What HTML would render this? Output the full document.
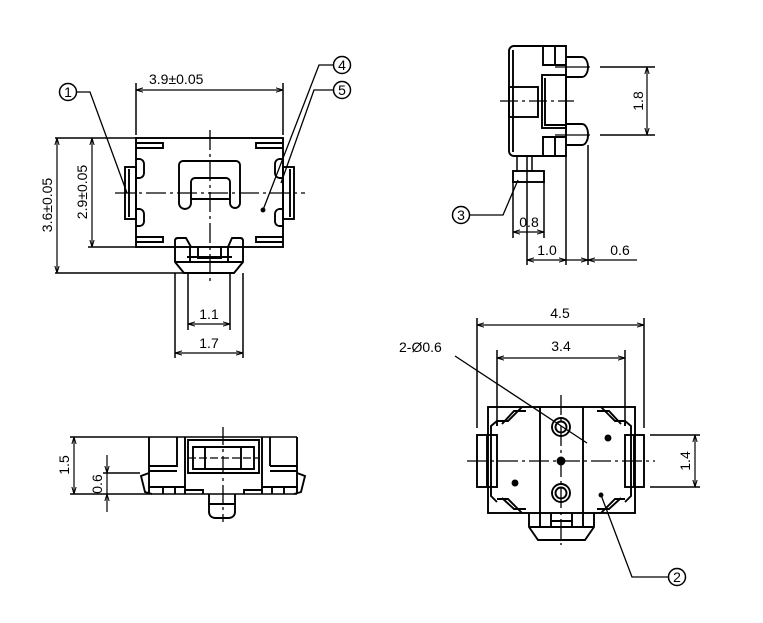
<!DOCTYPE html>
<html><head><meta charset="utf-8"><style>
html,body{margin:0;padding:0;background:#fff;}
svg{display:block;}
text{font-family:"Liberation Sans",sans-serif;fill:#000;}
</style></head><body>
<svg width="763" height="623" viewBox="0 0 763 623" xmlns="http://www.w3.org/2000/svg">
<defs>
<marker id="a" viewBox="0 0 10 10" refX="10" refY="5" markerWidth="6" markerHeight="6" orient="auto-start-reverse"><path d="M0,2 L10,5 L0,8" fill="none" stroke="#000" stroke-width="1.4"/></marker>
</defs>
<g fill="none" stroke="#000" stroke-width="1.9">
<!-- ===== TOP LEFT VIEW ===== -->
<rect x="136" y="138" width="147" height="109"/>
<path d="M136,143 H163 V148 H136 M283,143 H256 V148 H283 M136,237 H163 V242 H136 M283,237 H256 V242 H283"/>
<rect x="125" y="167" width="11" height="52"/><rect x="283" y="167" width="11" height="52"/>
<path d="M129,169 V217 M290,169 V217"/>
<path d="M136,159 H140 A5,5 0 0 1 144,164 V173 A5,5 0 0 1 140,178 H136 M136,209 H140 A5,5 0 0 1 144,214 V222 A5,5 0 0 1 140,226 H136"/>
<path d="M283,159 H279 A5,5 0 0 0 275,164 V173 A5,5 0 0 0 279,178 H283 M283,209 H279 A5,5 0 0 0 275,214 V222 A5,5 0 0 0 279,226 H283"/>
<path d="M179,203 V165 A4,4 0 0 1 183,161 H236 A4,4 0 0 1 240,165 V203 A5,5 0 0 1 230,203 V182 A4,4 0 0 0 226,178 H195 A4,4 0 0 0 191,182 V203 A6,6 0 0 1 179,203 Z"/>
<path d="M191,199 H230"/>
<path d="M175,247 V240 A3,3 0 0 1 178,238 H186 L191,247 M243,247 V240 A3,3 0 0 0 240,238 H232 L228,247"/>
<path d="M175,247 V262 L184,273 H234 L243,262 V247 M175,262 H243 M190,247 V262 M228,247 V262 M198,247 V258 H221 V247 M187,257 H232"/>
<path d="M210,130 V285" stroke-width="1.3" stroke-dasharray="20,4,3,4"/>
<path d="M115,193 H305" stroke-width="1.3" stroke-dasharray="20,4,3,4"/>
<path d="M136,83 V135 M283,83 V135" stroke-width="1.5"/>
<path d="M136,90 H283" stroke-width="1.2" marker-start="url(#a)" marker-end="url(#a)"/>
<path d="M88,138 H136 M88,247 H136 M55,138 H136 M55,273 H186" stroke-width="1.5"/>
<path d="M92,138 V247" stroke-width="1.2" marker-start="url(#a)" marker-end="url(#a)"/>
<path d="M57,138 V273" stroke-width="1.2" marker-start="url(#a)" marker-end="url(#a)"/>
<path d="M188,273 V330 M230,273 V330 M175,273 V358 M243,273 V358" stroke-width="1.5"/>
<path d="M188,324 H230" stroke-width="1.2" marker-start="url(#a)" marker-end="url(#a)"/>
<path d="M175,353 H243" stroke-width="1.2" marker-start="url(#a)" marker-end="url(#a)"/>
<circle cx="68" cy="92" r="8.5" stroke-width="1.5"/>
<path d="M77,92 H90 L127,193" stroke-width="1.3"/>
<circle cx="342" cy="65" r="8.5" stroke-width="1.5"/><circle cx="342" cy="90" r="8.5" stroke-width="1.5"/>
<path d="M333,65 H319 L263,210 M333,90 H314 L281,183" stroke-width="1.3"/>
<circle cx="263" cy="210" r="1.5" fill="#000"/>

<!-- ===== TOP RIGHT VIEW ===== -->
<path d="M566,46 V156 H514 A5,5 0 0 1 509,151 V51 A5,5 0 0 1 514,46 Z"/>
<path d="M513,50 V152"/>
<rect x="509" y="87" width="29" height="30"/>
<rect x="542" y="75" width="24" height="53"/>
<path d="M545,78 V125 H566"/>
<path d="M543,46 V65 H566 M555,46 V65 M543,156 V137 H566 M555,156 V137"/>
<path d="M566,57 H582 A6,10 0 0 1 588,67 A6,10 0 0 1 582,77 H566 M566,124 H582 A6,10 0 0 1 588,134 A6,10 0 0 1 582,145 H566"/>
<path d="M555,67 H590 M555,135 H590" stroke-width="1.3"/>
<path d="M500,101 H574" stroke-width="1.3" stroke-dasharray="18,4,3,4"/>
<path d="M517,156 V172 M532,156 V172 M527,156 V172" stroke-width="1.5"/>
<rect x="513" y="171" width="31" height="11"/>
<path d="M600,67 H655 M600,135 H655" stroke-width="1.5"/>
<path d="M647,67 V135" stroke-width="1.2" marker-start="url(#a)" marker-end="url(#a)"/>
<path d="M513,182 V238 M544,182 V238 M527,172 V265 M566,156 V265 M588,145 V265" stroke-width="1.5"/>
<path d="M513,232 H544" stroke-width="1.2" marker-start="url(#a)" marker-end="url(#a)"/>
<path d="M527,260 H566" stroke-width="1.2" marker-start="url(#a)" marker-end="url(#a)"/>
<path d="M566,260 H588" stroke-width="1.2" marker-end="url(#a)"/>
<path d="M588,260 H637" stroke-width="1.2" marker-start="url(#a)"/>
<circle cx="461" cy="215" r="8.5" stroke-width="1.5"/>
<path d="M470,215 H503 L518,180" stroke-width="1.3"/>

<!-- ===== BOTTOM LEFT VIEW ===== -->
<path d="M70,437 H297 M70,494 H297" stroke-width="1.6"/>
<path d="M149,437 V494 M297,437 V494"/>
<path d="M149,466 H177 V437 M149,471 H177 M185,437 V473 M270,466 H297 M270,471 H297 M262,437 V473 M270,437 V466"/>
<path d="M188,440 H259 V473 H188 Z M193,447 H254 V469 H193 Z M205,447 V469 M241,447 V469"/>
<path d="M188,458 H259" stroke-width="1.2" stroke-dasharray="8,3"/>
<path d="M149,487 H185 M163,487 V494 M175,487 V494 M185,473 V494 M262,473 V494 M262,487 H297 M272,487 V494 M284,487 V494 M185,490 H203 V494 M262,490 H244 V494"/>
<path d="M149,473 L141,476 L145,492 L152,494 M297,473 L305,476 L301,492 L294,494"/>
<path d="M209,494 V512 A6,6 0 0 0 215,518 H229 A6,6 0 0 0 235,512 V494 M209,504 H235"/>
<path d="M223,427 V522" stroke-width="1.3" stroke-dasharray="18,4,3,4"/>
<path d="M74,437 V494" stroke-width="1.2" marker-start="url(#a)" marker-end="url(#a)"/>
<path d="M103,473 H140" stroke-width="1.5"/>
<path d="M107,455 V473" stroke-width="1.2" marker-end="url(#a)"/>
<path d="M107,512 V494" stroke-width="1.2" marker-end="url(#a)"/>
<path d="M107,473 V494" stroke-width="1.2"/>

<!-- ===== BOTTOM RIGHT VIEW ===== -->
<path d="M477,318 V428 M644,318 V428 M497,350 V420 M625,350 V420" stroke-width="1.5"/>
<path d="M477,325 H644" stroke-width="1.2" marker-start="url(#a)" marker-end="url(#a)"/>
<path d="M497,358 H625" stroke-width="1.2" marker-start="url(#a)" marker-end="url(#a)"/>
<rect x="488" y="407" width="147" height="106"/>
<rect x="477" y="435" width="20" height="52"/><rect x="625" y="435" width="19" height="52"/>
<path d="M487,435 V487 M634,435 V487"/>
<path d="M540,407 V513 M583,407 V513"/>
<path d="M522,407 L508,421 H497 V426 M497,421 L491,426 V496 L497,502 M522,513 L508,499 H497"/>
<path d="M502,424 L514,411 H526 M502,498 L514,509 H526"/>
<path d="M601,407 L615,421 H625 V426 M625,421 L631,426 V496 L625,502 M601,513 L615,499 H625"/>
<path d="M621,424 L609,411 H597 M621,498 L609,509 H597"/>
<circle cx="561" cy="427" r="9"/><circle cx="561" cy="427" r="5.5"/>
<circle cx="561" cy="493" r="9"/><circle cx="561" cy="493" r="5.5"/>
<circle cx="561" cy="461" r="3.5" fill="#000"/>
<circle cx="608" cy="438" r="2.5" fill="#000"/>
<circle cx="515" cy="483" r="2.5" fill="#000"/>
<path d="M529,513 V527 L538,540 H585 L594,527 V513 M529,527 H594 M540,513 V527 M551,513 V527 M572,513 V527 M583,513 V527 M551,521 H572"/>
<path d="M561,395 V545" stroke-width="1.3" stroke-dasharray="20,4,3,4"/>
<path d="M467,461 H655" stroke-width="1.3" stroke-dasharray="20,4,3,4"/>
<path d="M650,435 H700 M650,487 H700" stroke-width="1.5"/>
<path d="M695,435 V487" stroke-width="1.2" marker-start="url(#a)" marker-end="url(#a)"/>
<path d="M455,356 L587,443" stroke-width="1.3"/>
<circle cx="677" cy="577" r="8.5" stroke-width="1.5"/>
<path d="M668,577 H632 L601,495" stroke-width="1.3"/>
<circle cx="601" cy="495" r="1.5" fill="#000"/>
</g>
<g font-size="14">
<text x="149" y="84">3.9±0.05</text>
<text x="68" y="97" font-size="14" text-anchor="middle">1</text>
<text x="342" y="70" font-size="14" text-anchor="middle">4</text>
<text x="342" y="95" font-size="14" text-anchor="middle">5</text>
<text transform="translate(87,192) rotate(-90)" text-anchor="middle">2.9±0.05</text>
<text transform="translate(52,205) rotate(-90)" text-anchor="middle">3.6±0.05</text>
<text x="209" y="319" text-anchor="middle">1.1</text>
<text x="209" y="348" text-anchor="middle">1.7</text>
<text transform="translate(643,101) rotate(-90)" text-anchor="middle">1.8</text>
<text x="461" y="220" font-size="14" text-anchor="middle">3</text>
<text x="529" y="227" text-anchor="middle">0.8</text>
<text x="547" y="255" text-anchor="middle">1.0</text>
<text x="620" y="255" text-anchor="middle">0.6</text>
<text transform="translate(69,465) rotate(-90)" text-anchor="middle">1.5</text>
<text transform="translate(102,484) rotate(-90)" text-anchor="middle">0.6</text>
<text x="560" y="318" text-anchor="middle">4.5</text>
<text x="561" y="351" text-anchor="middle">3.4</text>
<text x="399" y="352">2-Ø0.6</text>
<text transform="translate(690,461) rotate(-90)" text-anchor="middle">1.4</text>
<text x="677" y="582" font-size="14" text-anchor="middle">2</text>
</g>
</svg>
</body></html>
